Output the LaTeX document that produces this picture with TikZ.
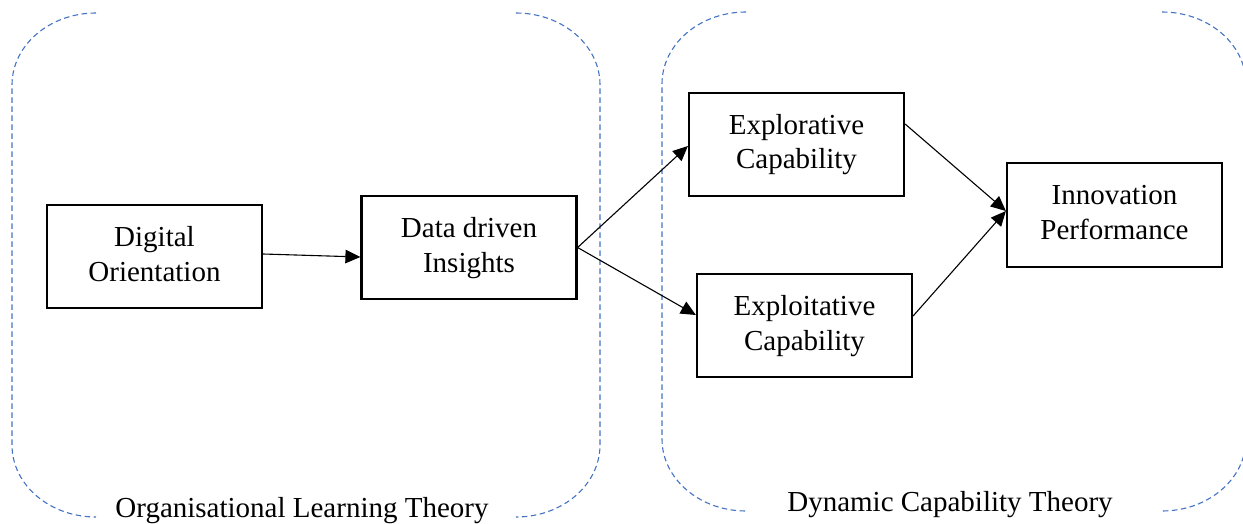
\documentclass[tikz,border=0pt]{standalone}
\usepackage{fontspec}
\setmainfont{Liberation Serif}
\usetikzlibrary{arrows.meta}

\definecolor{framebl}{RGB}{68,114,196}

\tikzset{
  block/.style={draw=black, line width=2.2pt, fill=white,
    minimum width=215pt, minimum height=103pt, inner sep=0pt,
    align=center, font=\fontsize{29}{35}\selectfont},
  link/.style={draw=black, line width=1.1pt, -{Triangle[length=15pt,width=13.5pt]}},
  frame/.style={draw=framebl, line width=1.1pt, dash pattern=on 5.5pt off 3.5pt},
  theory/.style={anchor=base, inner sep=0pt, font=\fontsize{29}{35}\selectfont}
}

% open rounded frame: only the two sides with their four rounded corners
% #1 left x, #2 top y, #3 right x, #4 bottom y
\newcommand{\theoryframe}[4]{%
  \draw[frame] (#1+84,#2) .. controls (#1+37.6,#2) and (#1,#2+32.2) .. (#1,#2+72)
    -- (#1,#4-72) .. controls (#1,#4-32.2) and (#1+37.6,#4) .. (#1+84,#4);
  \draw[frame] (#3-84,#2) .. controls (#3-37.6,#2) and (#3,#2+32.2) .. (#3,#2+72)
    -- (#3,#4-72) .. controls (#3,#4-32.2) and (#3-37.6,#4) .. (#3-84,#4);
}

\begin{document}
\begin{tikzpicture}[x=1pt, y=-1pt]
  \useasboundingbox (0,0) rectangle (1243,524);

  % theory frames
  \theoryframe{12}{13}{600}{517}
  \theoryframe{662}{12}{1246}{511}

  \node[theory] (olt) at (302,517) {Organisational Learning Theory};
  \node[theory] (dct) at (950,511) {Dynamic Capability Theory};

  % constructs
  \node[block] (do)  at (154.5,256.5) {\strut Digital\\Orientation\strut};
  \node[block] (ddi) at (469,247.5)   {\strut Data driven\\Insights\strut};
  \node[block] (exr) at (796.5,144.5) {\strut Explorative\\Capability\strut};
  \node[block] (ext) at (804.5,325.5) {\strut Exploitative\\Capability\strut};
  \node[block, minimum height=104pt] (inn) at (1114.5,215) {\strut Innovation\\Performance\strut};

  % paths
  \draw[link] ([yshift=2.5pt]do.east) -- ([yshift=-0.5pt]ddi.west |- do.east);
  \draw[link] (ddi.east) -- ([yshift=-1.5pt]exr.west);
  \draw[link] (ddi.east) -- ([yshift=10.5pt]ext.west);
  \draw[link] ([yshift=20.5pt]exr.east) -- ([yshift=4pt]inn.west);
  \draw[link] ([yshift=9.5pt]ext.east) -- ([yshift=4pt]inn.west);
\end{tikzpicture}
\end{document}
